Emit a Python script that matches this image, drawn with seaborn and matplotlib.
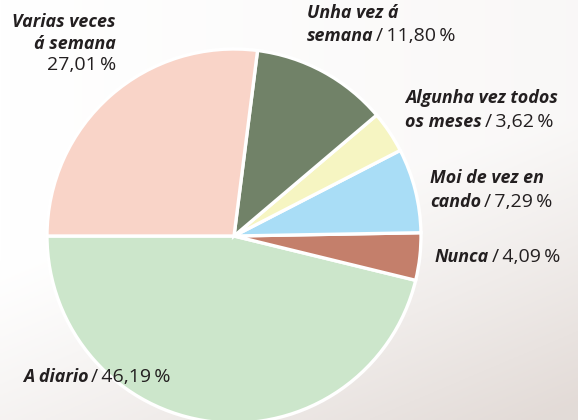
import numpy as np
import matplotlib
matplotlib.use("Agg")
import matplotlib.pyplot as plt
import seaborn as sns

# ---- data ----
categories = ["A diario", "Nunca", "Moi de vez en\ncando", "Algunha vez todos\nos meses",
              "Unha vez á\nsemana", "Varias veces\ná semana"]
values = [46.19, 4.09, 7.29, 3.62, 11.80, 27.01]
value_labels = ["46,19\u2009%", "4,09\u2009%", "7,29\u2009%", "3,62\u2009%", "11,80\u2009%", "27,01\u2009%"]
colors = ["#cce6cb", "#c47f6b", "#a9ddf6", "#f6f5c2", "#718268", "#f9d4c8"]

sns.set_theme(style="white")
plt.rcParams['font.family'] = ['Open Sans', 'DejaVu Sans']

W, H = 578, 420
fig = plt.figure(figsize=(W / 100, H / 100), dpi=100)
ax = fig.add_axes([0, 0, 1, 1])

# soft background (faded photo look toward bottom-right)
yy, xx = np.mgrid[0:1:200j, 0:1:200j]
t = np.clip((xx * 0.7 + yy * 1.2 - 0.75) / 1.1, 0, 1) ** 1.2
t = np.maximum(t, 0.2 * xx)
c0 = np.array([1.0, 1.0, 1.0])
c1 = np.array([0.89, 0.86, 0.845])
img = c0[None, None, :] * (1 - t[..., None]) + c1[None, None, :] * t[..., None]
ax.imshow(img, extent=(0, W, 0, H), origin="upper", zorder=0, aspect="auto")

cx, cy, r = 234, H - 236, 187
ax.pie(values, colors=colors, startangle=180, counterclock=True,
       center=(cx, cy), radius=r, frame=True,
       wedgeprops=dict(edgecolor="white", linewidth=2.4))
ax.set_xlim(0, W)
ax.set_ylim(0, H)
ax.set_aspect("equal")
ax.axis("off")

fs = 12.9
tc = "#231f20"
bold_it = dict(fontsize=fs, fontweight="bold", fontstyle="italic", color=tc)
reg = dict(fontsize=14, color=tc)

def label(x, y, name, value, ha="left", value_newline=False, lh=24):
    lines = name.split("\n")
    ypx = y
    for i, ln in enumerate(lines):
        last = i == len(lines) - 1
        t1 = ax.text(x, H - ypx, ln, ha=ha, va="baseline", **bold_it)
        if last and not value_newline:
            ax.annotate("/\u2009" + value, xy=(1, 0), xycoords=t1,
                        xytext=(2, 0), textcoords="offset points",
                        ha="left", va="bottom", **reg)
        ypx += lh
    if value_newline:
        ax.text(x, H - ypx + 1, value, ha=ha, va="baseline", **reg)

# label positions (pixel coordinates of text baselines)
label(23, 382, categories[0], value_labels[0])
label(435, 262, categories[1], value_labels[1])
label(430, 183, categories[2], value_labels[2], lh=24)
label(405, 103, categories[3], value_labels[3], lh=24)
label(307, 18, categories[4], value_labels[4], lh=23)
label(116, 27, categories[5], value_labels[5], ha="right", value_newline=True, lh=22)

fig.savefig("out.png", dpi=100)
